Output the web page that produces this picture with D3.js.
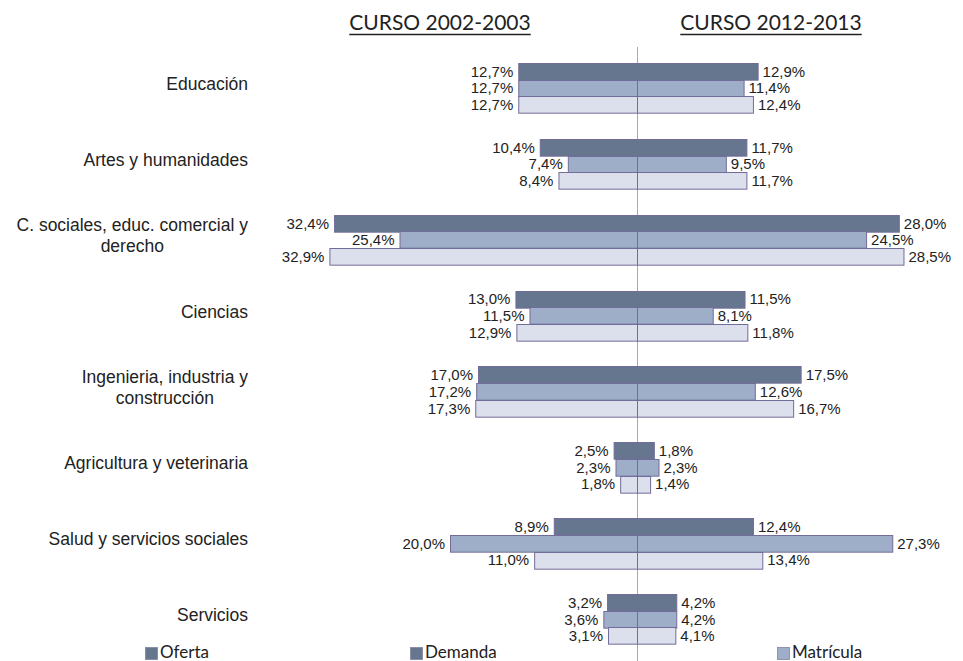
<!DOCTYPE html>
<html>
<head>
<meta charset="utf-8">
<script src="https://cdn.jsdelivr.net/npm/d3@7"></script>
<style>
  html, body { margin: 0; padding: 0; background: #fff; }
  svg { display: block; }
</style>
</head>
<body>
<svg id="chart" width="963" height="661"></svg>
<script>
// ---------- DATA ----------
const categories = [
  "Educación",
  "Artes y humanidades",
  "C. sociales, educ. comercial y derecho",
  "Ciencias",
  "Ingenieria, industria y construcción",
  "Agricultura y veterinaria",
  "Salud y servicios sociales",
  "Servicios"
];
const categoryLines = [
  ["Educación"],
  ["Artes y humanidades"],
  ["C. sociales, educ. comercial y", "derecho"],
  ["Ciencias"],
  ["Ingenieria, industria y", "construcción"],
  ["Agricultura y veterinaria"],
  ["Salud y servicios sociales"],
  ["Servicios"]
];
const seriesNames = ["Oferta", "Demanda", "Matrícula"];
const periodTitles = ["CURSO 2002-2003", "CURSO 2012-2013"];

const oferta2002    = [12.7, 10.4, 32.4, 13.0, 17.0, 2.5, 8.9, 3.2];
const demanda2002   = [12.7, 7.4, 25.4, 11.5, 17.2, 2.3, 20.0, 3.6];
const matricula2002 = [12.7, 8.4, 32.9, 12.9, 17.3, 1.8, 11.0, 3.1];
const oferta2012    = [12.9, 11.7, 28.0, 11.5, 17.5, 1.8, 12.4, 4.2];
const demanda2012   = [11.4, 9.5, 24.5, 8.1, 12.6, 2.3, 27.3, 4.2];
const matricula2012 = [12.4, 11.7, 28.5, 11.8, 16.7, 1.4, 13.4, 4.1];

// ---------- STYLE ----------
const barFill = { "Oferta": "#67768f", "Demanda": "#9eadc8", "Matrícula": "#dcdfec" };
const legendFill = { "Oferta": "#67768f", "Demanda": "#67768f", "Matrícula": "#9eadc8" };
const barStroke = "#726c99";
const labelFont = "'Liberation Sans', Arial, sans-serif";
const titleFont = "Lato, 'Open Sans', sans-serif";

const svg = d3.select("#chart");
const cx = 637;

const left = [oferta2002, demanda2002, matricula2002];
const right = [oferta2012, demanda2012, matricula2012];

const x = d3.scaleLinear().domain([0, 35]).range([0, 327.25]);
const y = d3.scaleBand().domain(categories).range([50.05, 657.0])
  .paddingInner(0.341).paddingOuter(0.1705);
const ys = d3.scaleBand().domain(seriesNames).range([0, y.bandwidth()]);

// center line
svg.append("line")
  .attr("x1", cx + 0.5).attr("x2", cx + 0.5)
  .attr("y1", 47).attr("y2", 661)
  .attr("stroke", "#a9a9a9").attr("stroke-width", 1);

// build records
const recs = [];
categories.forEach((c, i) => {
  seriesNames.forEach((s, j) => {
    recs.push({ cat: c, ser: s, side: "L", v: left[j][i] });
    recs.push({ cat: c, ser: s, side: "R", v: right[j][i] });
  });
});

const g = svg.append("g");
g.selectAll("rect.bar").data(recs).join("rect")
  .attr("class", "bar")
  .attr("x", d => d.side === "L" ? cx - x(d.v) + 0.5 : cx + 0.5)
  .attr("y", d => Math.round(y(d.cat) + ys(d.ser)) + 0.5)
  .attr("width", d => x(d.v))
  .attr("height", ys.bandwidth())
  .attr("fill", d => barFill[d.ser])
  .attr("stroke", barStroke)
  .attr("stroke-width", 1);

const fmt = v => d3.format(".1f")(v).replace(".", ",") + "%";

g.selectAll("text.val").data(recs).join("text")
  .attr("class", "val")
  .attr("x", d => d.side === "L" ? cx - x(d.v) - 5 : cx + x(d.v) + 5)
  .attr("y", d => y(d.cat) + ys(d.ser) + ys.bandwidth() / 2 + 5.5)
  .attr("text-anchor", d => d.side === "L" ? "end" : "start")
  .attr("font-family", labelFont)
  .attr("font-size", 15)
  .attr("fill", "#222")
  .text(d => fmt(d.v));

// category labels
const labelRight = 248;
categories.forEach((c, i) => {
  const lines = categoryLines[i];
  const grp = svg.append("g");
  const lineH = 21;
  const midY = y(c) + y.bandwidth() / 2 - 4;
  const texts = lines.map((ln, k) => grp.append("text")
    .attr("font-family", labelFont)
    .attr("font-size", 17.5)
    .attr("fill", "#222")
    .attr("text-anchor", "middle")
    .attr("y", midY + (k - (lines.length - 1) / 2) * lineH + 6)
    .text(ln));
  const maxW = d3.max(texts, t => t.node().getComputedTextLength());
  texts.forEach(t => t.attr("x", labelRight - maxW / 2));
});

// titles
[[440, periodTitles[0]], [771, periodTitles[1]]].forEach(([tx, tt]) => {
  const t = svg.append("text")
    .attr("x", tx).attr("y", 30)
    .attr("text-anchor", "middle")
    .attr("font-family", titleFont)
    .attr("font-size", 21)
    .attr("fill", "#222")
    .text(tt);
  const w = t.node().getComputedTextLength();
  svg.append("line")
    .attr("x1", tx - w / 2).attr("x2", tx + w / 2)
    .attr("y1", 34.5).attr("y2", 34.5)
    .attr("stroke", "#222").attr("stroke-width", 1.3);
});

// legend
const legendX = [145, 410, 777];
seriesNames.forEach((s, i) => {
  svg.append("rect")
    .attr("x", legendX[i] + 0.5).attr("y", 647.5)
    .attr("width", 12).attr("height", 12)
    .attr("fill", legendFill[s])
    .attr("stroke", "#7e86a0").attr("stroke-width", 0.8);
  svg.append("text")
    .attr("x", legendX[i] + 15).attr("y", 658)
    .attr("font-family", titleFont)
    .attr("font-size", 17)
    .attr("fill", "#222")
    .text(s);
});
</script>
</body>
</html>
